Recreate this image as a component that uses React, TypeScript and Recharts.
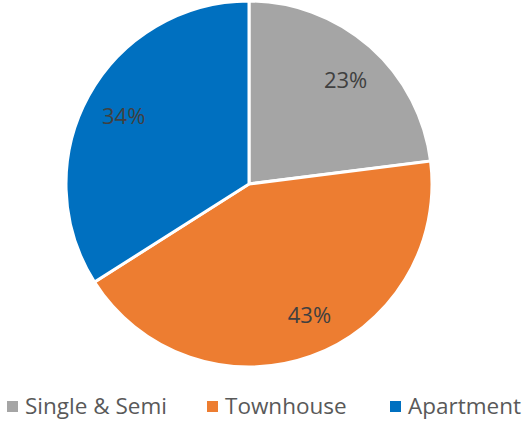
import { PieChart, Pie, Cell } from "recharts";

const categories = ["Single & Semi", "Townhouse", "Apartment"];
const values = [23, 43, 34];
const colors = ["#A5A5A5", "#ED7D31", "#0070C0"];
// small label nudges, as Excel places them
const labelShift = [
	[2, 2],
	[12, -5],
	[0, 0],
];

const data = categories.map((name, i) => ({ name, value: values[i] }));

const RAD = Math.PI / 180;

const renderLabel = (props: any) => {
	const { cx, cy, midAngle, value, index } = props;
	const r = 143;
	const x = cx + r * Math.cos(-midAngle * RAD) + labelShift[index][0];
	const y = cy + r * Math.sin(-midAngle * RAD) + labelShift[index][1];
	return (
		<text
			x={x}
			y={y}
			fill="#404040"
			fontSize={22}
			fontFamily="'Open Sans', sans-serif"
			textAnchor="middle"
			dominantBaseline="central"
		>
			{value}%
		</text>
	);
};

const legendX = [7, 207, 390];

export default function App() {
	return (
		<div style={{ position: "absolute", left: 0, top: 0, width: 524, height: 422, background: "#fff" }}>
			<PieChart width={524} height={380} margin={{ top: 0, right: 0, bottom: 0, left: 0 }}>
				<Pie
					data={data}
					dataKey="value"
					nameKey="name"
					cx={249}
					cy={184}
					outerRadius={183}
					startAngle={90}
					endAngle={-270}
					stroke="#fff"
					strokeWidth={3}
					label={renderLabel}
					labelLine={false}
					isAnimationActive={false}
				>
					{data.map((d, i) => (
						<Cell key={d.name} fill={colors[i]} />
					))}
				</Pie>
			</PieChart>
			{categories.map((c, i) => (
				<div
					key={c}
					style={{
						position: "absolute",
						left: legendX[i],
						top: 393,
						height: 26,
						lineHeight: "26px",
						display: "flex",
						alignItems: "center",
						fontFamily: "'Open Sans', sans-serif",
						fontSize: 22.5,
						color: "#595959",
						whiteSpace: "nowrap",
					}}
				>
					<span style={{ width: 11, height: 11, background: colors[i], marginRight: 7, display: "inline-block" }} />
					{c}
				</div>
			))}
		</div>
	);
}
